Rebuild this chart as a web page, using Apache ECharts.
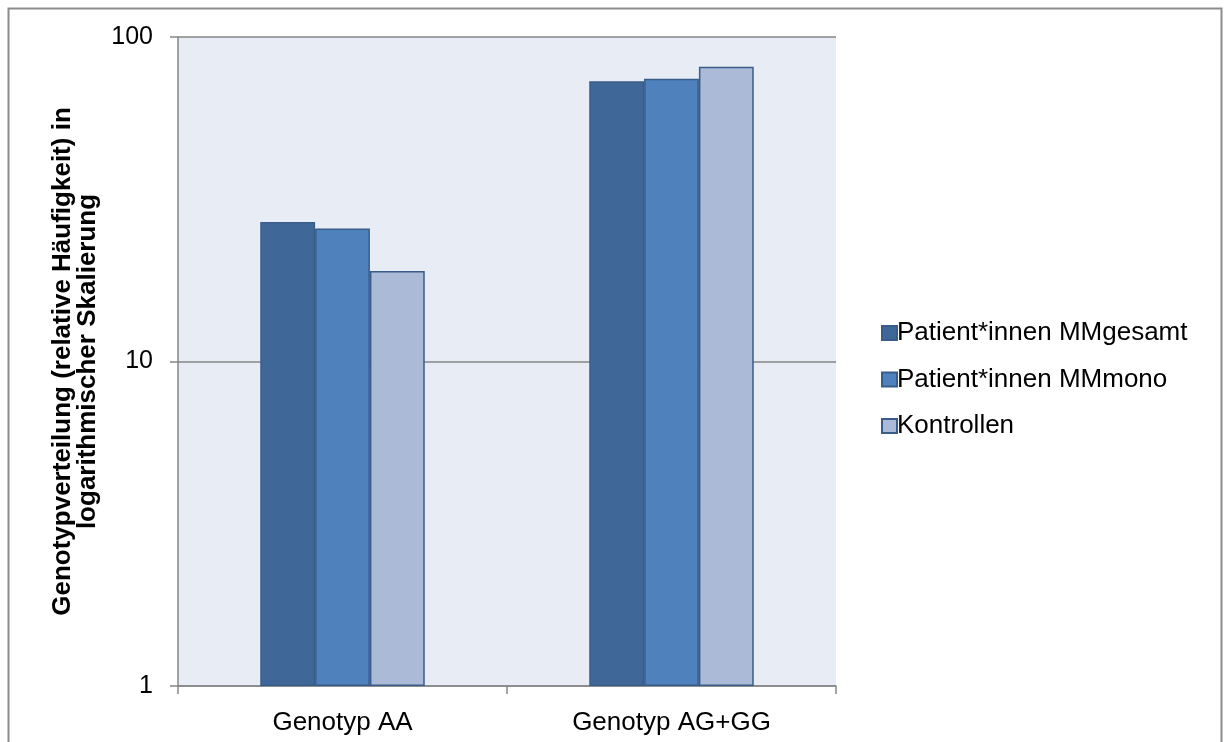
<!DOCTYPE html>
<html>
<head>
<meta charset="utf-8">
<script src="https://cdn.jsdelivr.net/npm/echarts@6/dist/echarts.min.js"></script>
<style>
  html, body { margin: 0; padding: 0; background: #fff; }
  #chart { width: 1224px; height: 742px; }
</style>
</head>
<body>
<div id="chart"></div>
<script>
const categories = ["Genotyp AA", "Genotyp AG+GG"];
const seriesNames = ["Patient*innen MMgesamt", "Patient*innen MMmono", "Kontrollen"];
const mmGesamt = [26.9, 73.1];
const mmMono = [25.7, 74.3];
const kontrollen = [19.0, 81.0];
const barColors = ["#3F6899", "#4F81BD", "#AABAD7"];

const font = "Liberation Sans, Arial, sans-serif";
const chart = echarts.init(document.getElementById("chart"), null, { renderer: "canvas" });

function bar(name, data, color) {
  return {
    name,
    type: "bar",
    data,
    barGap: "0%",
    barCategoryGap: "50%",
    itemStyle: { color, borderColor: "#385D8A", borderWidth: 1.5 },
  };
}

chart.setOption({
  animation: false,
  backgroundColor: "#fff",
  graphic: [
    {
      type: "rect",
      shape: { x: 8.5, y: 8.5, width: 1213, height: 760 },
      style: { fill: "none", stroke: "#8c8c8c", lineWidth: 2 },
      silent: true,
    },
  ],
  grid: {
    left: 178, right: 388, top: 37, bottom: 56,
    show: true, backgroundColor: "#E8ECF4", borderWidth: 0,
  },
  legend: {
    orient: "vertical",
    left: 876, top: 315,
    itemWidth: 15, itemHeight: 14, itemGap: 20.5,
    icon: "rect",
    textStyle: { fontFamily: font, fontSize: 26, color: "#000", padding: [0, 0, 0, -5] },
    data: seriesNames,
  },
  xAxis: {
    type: "category",
    data: categories,
    axisLine: { lineStyle: { color: "#868686", width: 1.5 } },
    axisTick: { show: true, length: 8, lineStyle: { color: "#868686", width: 1.5 } },
    axisLabel: { fontFamily: font, fontSize: 26, color: "#000", margin: 24 },
  },
  yAxis: {
    type: "log",
    logBase: 10,
    min: 1, max: 100,
    name: "Genotypverteilung (relative Häufigkeit) in\nlogarithmischer Skalierung",
    nameLocation: "middle",
    nameGap: 78,
    nameTextStyle: { fontFamily: font, fontSize: 26, fontWeight: "bold", color: "#000", lineHeight: 25 },
    axisLine: { show: true, lineStyle: { color: "#868686", width: 1.5 } },
    axisTick: { show: true, length: 8, lineStyle: { color: "#868686", width: 1.5 } },
    minorTick: { show: false },
    axisLabel: { fontFamily: font, fontSize: 25, color: "#000", margin: 25 },
    splitLine: { show: true, lineStyle: { color: "#868686", width: 1.5 } },
  },
  series: [
    bar(seriesNames[0], mmGesamt, barColors[0]),
    bar(seriesNames[1], mmMono, barColors[1]),
    bar(seriesNames[2], kontrollen, barColors[2]),
  ],
});
</script>
</body>
</html>
